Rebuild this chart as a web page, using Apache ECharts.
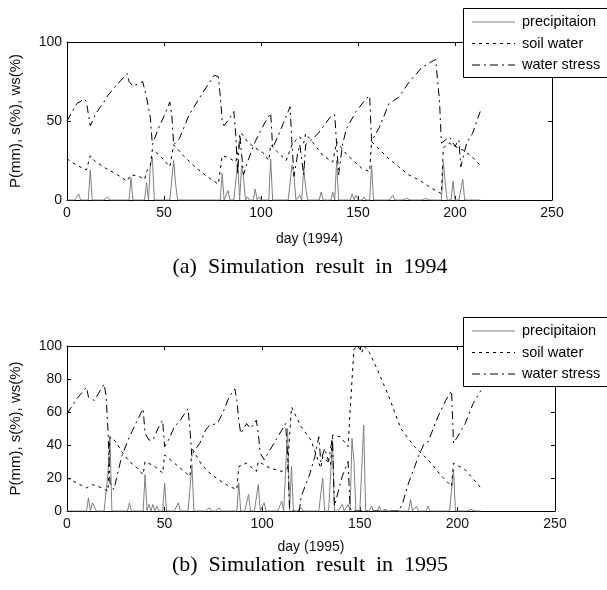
<!DOCTYPE html>
<html>
<head>
<meta charset="utf-8">
<script src="https://cdn.jsdelivr.net/npm/echarts@6/dist/echarts.min.js"></script>
<style>
html, body { margin: 0; background: #fff; }
#chart { width: 607px; height: 590px; }
</style>
</head>
<body>
<div id="chart"></div>
<script>
// 1994
var lastDay94 = 213
var rainDays94 = [6, 12, 18, 21, 33, 41, 43, 44, 55, 56, 80, 83, 88, 90, 91, 93, 97, 99, 105, 116, 117, 120, 122, 123, 131, 137, 139, 147, 149, 153, 157, 168, 175, 185, 194, 195, 199, 204]
var rainMm94 = [4, 19, 1, 2, 14, 11, 22, 27, 25, 10, 17, 6, 24, 22, 14, 2, 7, 2, 26, 22, 16, 3, 20, 8, 5, 5, 25, 4, 3, 2, 22, 3, 1, 1, 24, 10, 12, 13]
var soilDays94 = [0, 5, 10, 11, 12, 14, 20, 26, 31, 32, 33, 37, 40, 41, 43, 44, 48, 53, 54, 55, 60, 66, 72, 78, 79, 80, 83, 87, 88, 90, 93, 97, 101, 104, 105, 108, 113, 116, 118, 120, 122, 123, 127, 132, 137, 139, 144, 152, 156, 157, 161, 166, 171, 176, 181, 186, 190, 193, 194, 197, 200, 205, 209, 213]
var soilPct94 = [26, 22, 19, 18, 28, 25, 20, 16, 12, 11, 16, 15, 13, 18, 22, 32, 28, 21, 20, 35, 28, 21, 15, 10, 11, 28, 27, 24, 30, 42, 37, 33, 30, 25, 35, 31, 25, 35, 38, 40, 36, 42, 36, 28, 24, 37, 29, 20, 18, 37, 32, 26, 21, 16, 13, 9, 6, 4, 33, 36, 34, 31, 27, 22]
var stressDays94 = [0, 5, 9, 10, 12, 15, 19, 21, 25, 31, 32, 34, 39, 41, 43, 44, 47, 50, 53, 54, 55, 58, 63, 70, 76, 78, 79, 80, 81, 84, 86, 87, 88, 89, 90, 91, 93, 97, 102, 105, 106, 109, 114, 115, 116, 117, 119, 120, 122, 123, 127, 130, 136, 138, 139, 140, 142, 144, 149, 154, 156, 157, 161, 166, 171, 176, 183, 190, 191, 192, 193, 195, 197, 200, 202, 203, 206, 209, 213]
var stressPct94 = [50, 61, 64, 62, 47, 55, 62, 66, 72, 80, 75, 72, 75, 65, 52, 35, 45, 53, 62, 54, 35, 39, 54, 68, 79, 78, 66, 50, 47, 52, 56, 41, 16, 42, 43, 16, 24, 37, 49, 55, 33, 41, 56, 59, 35, 15, 30, 35, 16, 35, 39, 43, 53, 54, 35, 16, 35, 45, 56, 64, 66, 37, 46, 61, 65, 74, 84, 89, 88, 63, 36, 38, 40, 34, 38, 21, 36, 42, 56]

// 1995
var lastDay95 = 212
var rainDays95 = [11, 13, 14, 21, 22, 32, 40, 42, 44, 46, 50, 57, 64, 73, 78, 88, 93, 98, 101, 110, 113, 115, 120, 131, 136, 141, 144, 146, 147, 152, 156, 160, 163, 176, 179, 185, 198, 207]
var rainMm95 = [8, 5, 5, 23, 45, 5, 22, 4, 4, 3, 17, 5, 28, 2, 2, 17, 10, 16, 5, 6, 50, 27, 2, 20, 42, 4, 4, 44, 30, 52, 3, 3, 1, 7, 3, 3, 25, 1]
var soilDays95 = [0, 5, 10, 13, 18, 21, 22, 25, 28, 32, 36, 39, 40, 45, 49, 50, 54, 58, 63, 64, 69, 74, 79, 83, 87, 88, 92, 97, 98, 104, 110, 113, 115, 120, 125, 130, 131, 135, 136, 140, 144, 145, 147, 149, 151, 152, 155, 160, 165, 171, 178, 185, 192, 197, 198, 204, 212]
var soilPct95 = [20, 17, 14, 16, 14, 12, 45, 42, 36, 30, 26, 22, 30, 27, 23, 34, 30, 26, 21, 38, 28, 22, 18, 15, 13, 27, 29, 24, 30, 26, 24, 26, 63, 51, 43, 26, 33, 28, 46, 45, 39, 60, 98, 100, 96, 100, 96, 83, 69, 50, 39, 31, 21, 15, 29, 25, 14]
var stressDays95 = [0, 5, 10, 11, 14, 19, 20, 21, 22, 24, 28, 32, 36, 39, 40, 42, 44, 47, 49, 50, 52, 55, 58, 62, 63, 64, 65, 68, 71, 73, 77, 80, 83, 86, 87, 88, 89, 92, 94, 97, 98, 99, 101, 105, 110, 112, 113, 114, 115, 119, 120, 124, 127, 129, 130, 132, 134, 136, 137, 139, 141, 144, 145, 146, 170, 172, 175, 180, 183, 185, 190, 194, 197, 198, 204, 208, 212]
var stressPct95 = [59, 68, 75, 69, 67, 77, 70, 49, 17, 13, 33, 45, 55, 62, 47, 43, 43, 51, 55, 39, 43, 51, 55, 62, 49, 33, 36, 41, 49, 52, 53, 60, 69, 74, 67, 55, 47, 53, 50, 55, 47, 35, 31, 39, 49, 53, 34, 2, 0, 0, 9, 21, 33, 45, 30, 38, 30, 45, 3, 12, 21, 30, 2, 0, 0, 5, 17, 33, 41, 42, 57, 67, 73, 41, 53, 65, 73]

var xTicks = [0, 250, 50]
var yTicks94 = [0, 100, 50]
var yTicks95 = [0, 100, 20]

var sans = "'Liberation Sans', Arial, sans-serif"
var serif = "'Liberation Serif', 'Times New Roman', serif"

function pairs(xs, ys) {
  return xs.map(function (x, i) { return [x, ys[i]] })
}

// daily precipitation, dry days are 0
function daily(days, mm, last) {
  var out = []
  for (var d = 0; d <= last; d++) {
    var k = days.indexOf(d)
    out.push([d, k >= 0 ? mm[k] : 0])
  }
  return out
}

function xAxisOf(grid, pos, name, gap) {
  return {
    type: 'value', gridIndex: grid, position: pos,
    min: xTicks[0], max: xTicks[1], interval: xTicks[2],
    axisLine: { show: true, onZero: false, lineStyle: { color: '#000', width: 1 } },
    axisTick: { show: true, inside: true, length: 4, lineStyle: { color: '#000' } },
    axisLabel: { show: pos === 'bottom', color: '#111', fontFamily: sans, fontSize: 14, margin: 6 },
    splitLine: { show: false },
    name: name, nameLocation: 'middle', nameGap: gap,
    nameTextStyle: { color: '#111', fontFamily: sans, fontSize: 14 }
  }
}

function yAxisOf(grid, pos, ticks) {
  return {
    type: 'value', gridIndex: grid, position: pos,
    min: ticks[0], max: ticks[1], interval: ticks[2],
    axisLine: { show: true, onZero: false, lineStyle: { color: '#000', width: 1 } },
    axisTick: { show: true, inside: true, length: 4, lineStyle: { color: '#000' } },
    axisLabel: { show: pos === 'left', color: '#111', fontFamily: sans, fontSize: 14, margin: 5 },
    splitLine: { show: false },
    name: pos === 'left' ? 'P(mm), s(%), ws(%)' : '', nameLocation: 'middle', nameGap: 44,
    nameTextStyle: { color: '#111', fontFamily: sans, fontSize: 15 }
  }
}

var precipLine = { color: '#808080', width: 1, type: 'solid' }
var soilLine = { color: '#000', width: 1, type: [3, 4] }
var stressLine = { color: '#000', width: 1, type: [8, 4, 2, 4] }

function series(name, grid, data, style, z) {
  return {
    name: name, type: 'line', xAxisIndex: grid * 2, yAxisIndex: grid * 2,
    data: data, symbol: 'none', lineStyle: style, z: z, silent: true
  }
}

function legendBox(top) {
  var rows = [['precipitaion', precipLine], ['soil water', soilLine], ['water stress', stressLine]]
  var els = [{
    type: 'rect', z: 100,
    shape: { x: 463.5, y: top + 0.5, width: 160, height: 69 },
    style: { fill: '#fff', stroke: '#000', lineWidth: 1 }
  }]
  rows.forEach(function (r, i) {
    var y = top + 14 + i * 21.5
    els.push({
      type: 'line', z: 101,
      shape: { x1: 472, y1: y, x2: 515, y2: y },
      style: { stroke: r[1].color, lineWidth: 1, lineDash: r[1].type === 'solid' ? null : r[1].type }
    })
    els.push({
      type: 'text', z: 101,
      style: { x: 522, y: y, text: r[0], fill: '#000', font: '14.5px ' + sans, verticalAlign: 'middle' }
    })
  })
  return els
}

function caption(text, y) {
  return {
    type: 'text', z: 101,
    style: { x: 310, y: y, text: text, fill: '#000', font: '22px ' + serif, align: 'center', verticalAlign: 'middle' }
  }
}

var chart = echarts.init(document.getElementById('chart'))
chart.setOption({
  animation: false,
  backgroundColor: '#fff',
  grid: [
    { left: 63, top: 42, width: 489, height: 158 },
    { left: 64, top: 346, width: 491, height: 165 }
  ],
  xAxis: [
    xAxisOf(0, 'bottom', 'day (1994)', 32), xAxisOf(0, 'top', '', 0),
    xAxisOf(1, 'bottom', 'day (1995)', 29), xAxisOf(1, 'top', '', 0)
  ],
  yAxis: [
    yAxisOf(0, 'left', yTicks94), yAxisOf(0, 'right', yTicks94),
    yAxisOf(1, 'left', yTicks95), yAxisOf(1, 'right', yTicks95)
  ],
  series: [
    series('precipitaion', 0, daily(rainDays94, rainMm94, lastDay94), precipLine, 2),
    series('soil water', 0, pairs(soilDays94, soilPct94), soilLine, 3),
    series('water stress', 0, pairs(stressDays94, stressPct94), stressLine, 4),
    series('precipitaion', 1, daily(rainDays95, rainMm95, lastDay95), precipLine, 2),
    series('soil water', 1, pairs(soilDays95, soilPct95), soilLine, 3),
    series('water stress', 1, pairs(stressDays95, stressPct95), stressLine, 4)
  ],
  graphic: legendBox(8).concat(legendBox(317)).concat([
    caption('(a)  Simulation  result  in  1994', 267),
    caption('(b)  Simulation  result  in  1995', 565)
  ])
})
</script>
</body>
</html>
